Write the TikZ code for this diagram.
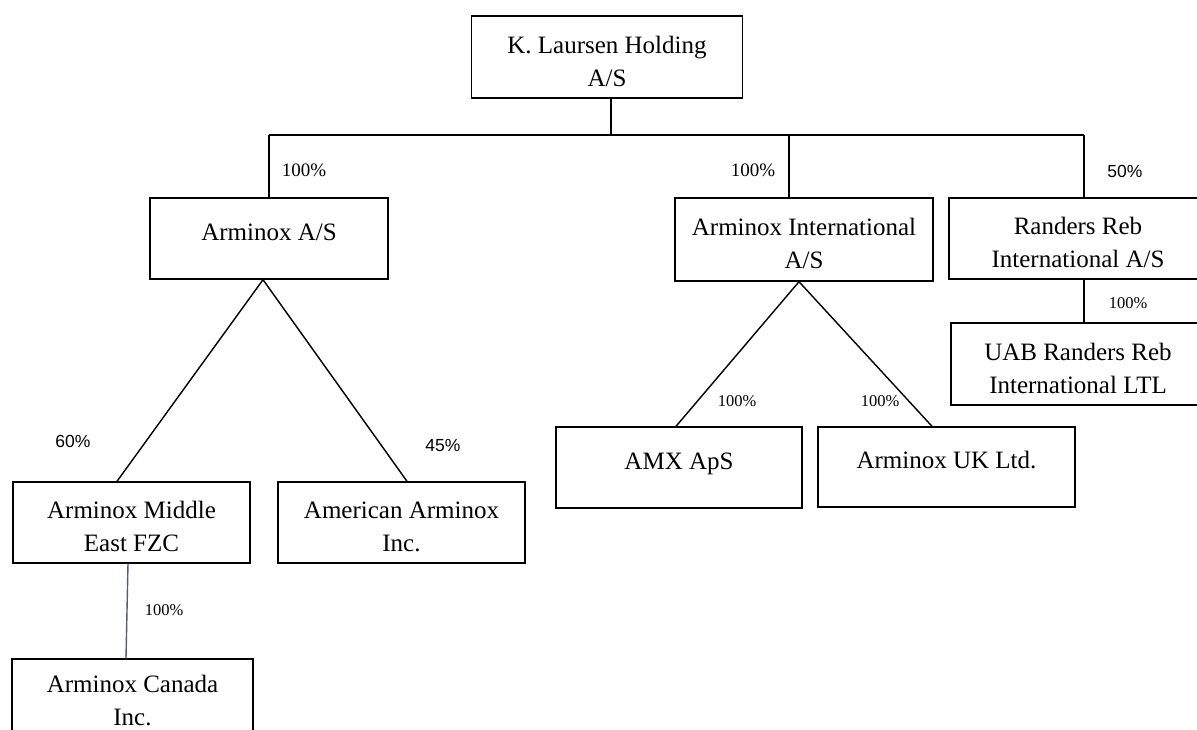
\documentclass[tikz,border=0pt]{standalone}
\usepackage{fontspec}
\setmainfont{Liberation Serif}
\newfontfamily\pctsans{Liberation Sans}
\usetikzlibrary{calc}

\tikzset{
	firm/.style={draw, line width=1.4pt, align=center, inner sep=0pt,
		font=\fontsize{25}{33}\selectfont, text height=18pt, text depth=15pt},
	firmtwo/.style={firm, text height=60pt, text depth=2pt},
	link/.style={line width=1.4pt},
	pct/.style={inner sep=0pt, font=\fontsize{19}{22}\selectfont},
	pctsmall/.style={inner sep=0pt, font=\fontsize{16.5}{20}\selectfont},
	pctsf/.style={inner sep=0pt, font=\pctsans\fontsize{17.5}{20}\selectfont}
}

\begin{document}
\begin{tikzpicture}[x=1pt, y=-1pt]
					\useasboundingbox (0,0) rectangle (1197,729);

					% the companies
					\node[firmtwo, minimum width=271, minimum height=82] (holding) at (607,57) {K. Laursen Holding\\A/S};
					\node[firm, minimum width=238, minimum height=81] (arminoxAS) at (269,238.5) {Arminox A/S};
					\node[firmtwo, minimum width=258, minimum height=83] (intl) at (804,239.5) {Arminox International\\A/S};
					\node[firmtwo, minimum width=258, minimum height=81] (randers) at (1078,238.5) {Randers Reb\\International A/S};
					\node[firmtwo, minimum width=254, minimum height=82] (uab) at (1078,364) {UAB Randers Reb\\International LTL};
					\node[firmtwo, minimum width=237, minimum height=81] (middle) at (131.5,522.5) {Arminox Middle\\East FZC};
					\node[firmtwo, minimum width=247, minimum height=81] (american) at (401.5,522.5) {American Arminox\\Inc.};
					\node[firmtwo, text height=52pt, minimum width=241, minimum height=82] (canada) at (132.5,700) {Arminox Canada\\Inc.};
					\node[firm, minimum width=246, minimum height=81] (amx) at (679,467.5) {AMX ApS};
					\node[firm, minimum width=257, minimum height=80] (uk) at (946.5,467) {Arminox UK Ltd.};

					% the bus under the holding
					\coordinate (bus) at (611,135);
					\coordinate (busL) at (269,135);
					\coordinate (busI) at (789,135);
					\coordinate (busR) at (1084,135);

					\draw[link] (bus |- holding.south) -- (bus);
					\draw[link] (busL) -- (busR);
					\draw[link] (busL) -- (busL |- arminoxAS.north);
					\draw[link] (busI) -- (busI |- intl.north);
					\draw[link] (busR) -- (busR |- randers.north);
					\draw[link] (busR |- randers.south) -- (busR |- uab.north);

					% the fans below
					\draw[link] ($(middle.north)+(-14.5,0)$) -- ($(arminoxAS.south)+(-6,0)$) -- ($(american.north)+(5.5,0)$);
					\draw[link] ($(amx.north)+(-3,0)$) -- ($(intl.south)+(-5,0)$) -- ($(uk.north)+(-14.5,0)$);
					\draw[line width=1.4pt, color={rgb,255:red,80;green,95;blue,115}] ($(middle.south)+(-3.5,0)$) -- ($(canada.north)+(-6.5,0)$);

					% the shares
					\node[pct] (pA) at (304,170) {100\%};
					\node[pct] (pI) at (753,170) {100\%};
					\node[pctsf] (pR) at (1125,171) {50\%};
					\node[pctsmall] (pU) at (1128,303) {100\%};
					\node[pctsf] (pM) at (73,441) {60\%};
					\node[pctsf] (pAm) at (443,446) {45\%};
					\node[pctsmall] (pC) at (164,610) {100\%};
					\node[pctsmall] (pX) at (737,401) {100\%};
					\node[pctsmall] (pK) at (880,401) {100\%};
\end{tikzpicture}
\end{document}
